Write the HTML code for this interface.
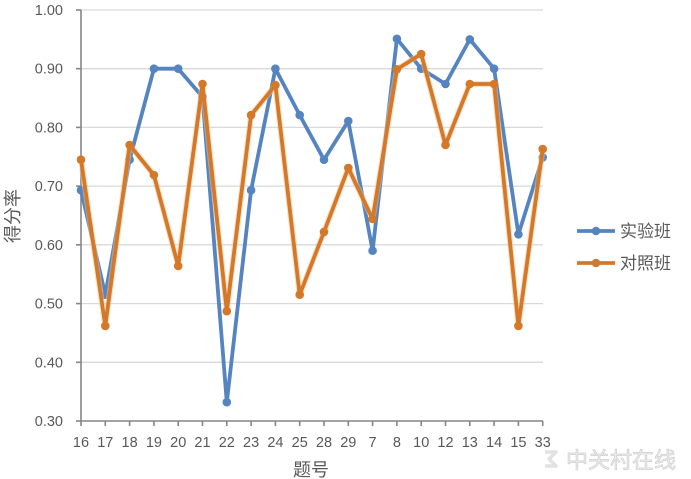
<!DOCTYPE html>
<html><head><meta charset="utf-8"><style>
html,body{margin:0;padding:0;background:#fff;}
svg{display:block;}
text{font-family:"Liberation Sans","Noto Sans CJK SC",sans-serif;fill:#595959;}
</style></head><body>
<svg width="691" height="479" viewBox="0 0 691 479" xmlns="http://www.w3.org/2000/svg">
<g stroke="#d9d9d9" stroke-width="1.3">
<line x1="81" y1="10" x2="543" y2="10"/>
<line x1="81" y1="68.7" x2="543" y2="68.7"/>
<line x1="81" y1="127.4" x2="543" y2="127.4"/>
<line x1="81" y1="186.1" x2="543" y2="186.1"/>
<line x1="81" y1="244.8" x2="543" y2="244.8"/>
<line x1="81" y1="303.6" x2="543" y2="303.6"/>
<line x1="81" y1="362.3" x2="543" y2="362.3"/>
</g>
<g stroke="#868686" stroke-width="1.6">
<line x1="81" y1="10" x2="81" y2="421"/>
<line x1="81" y1="421" x2="543" y2="421"/>
<line x1="76" y1="10" x2="81" y2="10"/>
<line x1="76" y1="68.7" x2="81" y2="68.7"/>
<line x1="76" y1="127.4" x2="81" y2="127.4"/>
<line x1="76" y1="186.1" x2="81" y2="186.1"/>
<line x1="76" y1="244.8" x2="81" y2="244.8"/>
<line x1="76" y1="303.6" x2="81" y2="303.6"/>
<line x1="76" y1="362.3" x2="81" y2="362.3"/>
<line x1="76" y1="421" x2="81" y2="421"/>
<line x1="81" y1="421" x2="81" y2="426"/>
<line x1="105.3" y1="421" x2="105.3" y2="426"/>
<line x1="129.6" y1="421" x2="129.6" y2="426"/>
<line x1="153.9" y1="421" x2="153.9" y2="426"/>
<line x1="178.2" y1="421" x2="178.2" y2="426"/>
<line x1="202.5" y1="421" x2="202.5" y2="426"/>
<line x1="226.8" y1="421" x2="226.8" y2="426"/>
<line x1="251.1" y1="421" x2="251.1" y2="426"/>
<line x1="275.4" y1="421" x2="275.4" y2="426"/>
<line x1="299.7" y1="421" x2="299.7" y2="426"/>
<line x1="324" y1="421" x2="324" y2="426"/>
<line x1="348.3" y1="421" x2="348.3" y2="426"/>
<line x1="372.6" y1="421" x2="372.6" y2="426"/>
<line x1="396.9" y1="421" x2="396.9" y2="426"/>
<line x1="421.2" y1="421" x2="421.2" y2="426"/>
<line x1="445.5" y1="421" x2="445.5" y2="426"/>
<line x1="469.8" y1="421" x2="469.8" y2="426"/>
<line x1="494.1" y1="421" x2="494.1" y2="426"/>
<line x1="518.4" y1="421" x2="518.4" y2="426"/>
<line x1="542.7" y1="421" x2="542.7" y2="426"/>
</g>
<g font-size="14.5" text-anchor="end">
<text x="63" y="15">1.00</text>
<text x="63" y="73.7">0.90</text>
<text x="63" y="132.4">0.80</text>
<text x="63" y="191.1">0.70</text>
<text x="63" y="249.8">0.60</text>
<text x="63" y="308.6">0.50</text>
<text x="63" y="367.3">0.40</text>
<text x="63" y="426">0.30</text>
</g>
<g font-size="14.5" text-anchor="middle">
<text x="81" y="447">16</text>
<text x="105.3" y="447">17</text>
<text x="129.6" y="447">18</text>
<text x="153.9" y="447">19</text>
<text x="178.2" y="447">20</text>
<text x="202.5" y="447">21</text>
<text x="226.8" y="447">22</text>
<text x="251.1" y="447">23</text>
<text x="275.4" y="447">24</text>
<text x="299.7" y="447">25</text>
<text x="324" y="447">28</text>
<text x="348.3" y="447">29</text>
<text x="372.6" y="447">7</text>
<text x="396.9" y="447">8</text>
<text x="421.2" y="447">10</text>
<text x="445.5" y="447">12</text>
<text x="469.8" y="447">13</text>
<text x="494.1" y="447">14</text>
<text x="518.4" y="447">15</text>
<text x="542.7" y="447">33</text>
</g>
<text x="311" y="476" font-size="18" text-anchor="middle">题号</text>
<text transform="translate(19,216) rotate(-90)" font-size="18" text-anchor="middle">得分率</text>

<!-- blue series -->
<polyline fill="none" stroke="#5584c0" stroke-width="3.8" stroke-linejoin="round" points="81,190.2 105.3,294.7 129.6,159.7 153.9,68.7 178.2,68.7 202.5,96.9 226.8,402.2 251.1,190.2 275.4,68.7 299.7,115.1 324,159.7 348.3,121 372.6,250.7 396.9,38.8 421.2,68.7 445.5,84 469.8,39.4 494.1,68.7 518.4,234.3 542.7,157.4"/>
<g fill="#5584c0">
<circle cx="81" cy="190.2" r="4.3"/><circle cx="105.3" cy="294.7" r="4.3"/><circle cx="129.6" cy="159.7" r="4.3"/><circle cx="153.9" cy="68.7" r="4.3"/><circle cx="178.2" cy="68.7" r="4.3"/><circle cx="202.5" cy="96.9" r="4.3"/><circle cx="226.8" cy="402.2" r="4.3"/><circle cx="251.1" cy="190.2" r="4.3"/><circle cx="275.4" cy="68.7" r="4.3"/><circle cx="299.7" cy="115.1" r="4.3"/><circle cx="324" cy="159.7" r="4.3"/><circle cx="348.3" cy="121" r="4.3"/><circle cx="372.6" cy="250.7" r="4.3"/><circle cx="396.9" cy="38.8" r="4.3"/><circle cx="421.2" cy="68.7" r="4.3"/><circle cx="445.5" cy="84" r="4.3"/><circle cx="469.8" cy="39.4" r="4.3"/><circle cx="494.1" cy="68.7" r="4.3"/><circle cx="518.4" cy="234.3" r="4.3"/><circle cx="542.7" cy="157.4" r="4.3"/>
</g>

<!-- orange series -->
<polyline fill="none" stroke="#f5c58f" stroke-width="6" stroke-linejoin="round" opacity="0.5" points="81,159.7 105.3,325.9 129.6,145 153.9,175 178.2,266 202.5,84 226.8,311.2 251.1,115.1 275.4,85.1 299.7,294.7 324,231.9 348.3,167.9 372.6,219 396.9,69.3 421.2,54 445.5,145 469.8,84 494.1,84 518.4,325.9 542.7,149.1"/>
<polyline fill="none" stroke="#d4782a" stroke-width="3.8" stroke-linejoin="round" points="81,159.7 105.3,325.9 129.6,145 153.9,175 178.2,266 202.5,84 226.8,311.2 251.1,115.1 275.4,85.1 299.7,294.7 324,231.9 348.3,167.9 372.6,219 396.9,69.3 421.2,54 445.5,145 469.8,84 494.1,84 518.4,325.9 542.7,149.1"/>
<g fill="#d4782a">
<circle cx="81" cy="159.7" r="4.3"/><circle cx="105.3" cy="325.9" r="4.3"/><circle cx="129.6" cy="145" r="4.3"/><circle cx="153.9" cy="175" r="4.3"/><circle cx="178.2" cy="266" r="4.3"/><circle cx="202.5" cy="84" r="4.3"/><circle cx="226.8" cy="311.2" r="4.3"/><circle cx="251.1" cy="115.1" r="4.3"/><circle cx="275.4" cy="85.1" r="4.3"/><circle cx="299.7" cy="294.7" r="4.3"/><circle cx="324" cy="231.9" r="4.3"/><circle cx="348.3" cy="167.9" r="4.3"/><circle cx="372.6" cy="219" r="4.3"/><circle cx="396.9" cy="69.3" r="4.3"/><circle cx="421.2" cy="54" r="4.3"/><circle cx="445.5" cy="145" r="4.3"/><circle cx="469.8" cy="84" r="4.3"/><circle cx="494.1" cy="84" r="4.3"/><circle cx="518.4" cy="325.9" r="4.3"/><circle cx="542.7" cy="149.1" r="4.3"/>
</g>

<!-- legend -->
<line x1="577" y1="231" x2="615" y2="231" stroke="#5584c0" stroke-width="3.8"/>
<circle cx="596" cy="231" r="4.3" fill="#5584c0"/>
<text x="620" y="237" font-size="17">实验班</text>
<line x1="577" y1="263" x2="615" y2="263" stroke="#d4782a" stroke-width="3.8"/>
<circle cx="596" cy="263" r="4.3" fill="#d4782a"/>
<text x="620" y="269" font-size="17">对照班</text>

<!-- watermark -->
<path d="M545,452 L556,452 L549,459 L556,466 L545,466" fill="none" stroke="#e2e2e2" stroke-width="3.5" stroke-linejoin="round"/>
<text x="566" y="468" font-size="22" style="fill:#eeeeee;stroke:#cfcfcf;stroke-width:0.7">中关村在线</text>
</svg>
</body></html>
